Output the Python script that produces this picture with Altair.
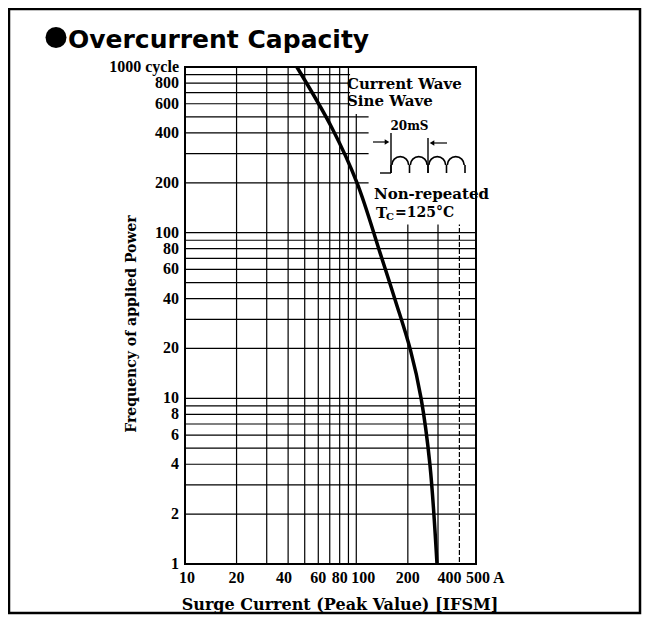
import math
import altair as alt
import pandas as pd

# ---------------- data ----------------
curve_current = [45, 72, 101, 138, 169, 207, 239, 269, 296]
curve_cycles = [1000, 430, 200, 75, 39, 19.6, 10, 4, 1]

x_grid_solid = [20, 30, 40, 50, 60, 70, 80, 90, 100, 200, 300]
x_grid_dashed = [400]
y_grid = [2, 3, 4, 5, 6, 7, 8, 9, 10, 20, 30, 40, 50, 60, 70, 80, 90,
          100, 200, 300, 400, 500, 600, 700, 800, 900]
x_tick_values = [10, 20, 40, 60, 80, 100, 200, 400, 500]
y_tick_values = [1, 2, 4, 6, 8, 10, 20, 40, 60, 80, 100, 200, 400, 600, 800, 1000]
x_unit = "A"
y_unit = "cycle"

title_text = "Overcurrent Capacity"
x_title = "Surge Current (Peak Value) [IFSM]"
y_title = "Frequency of applied Power"
wave_lines = ["Current Wave", "Sine Wave"]
period_label = "20mS"
repeat_label = "Non-repeated"
temp_symbol, temp_sub, temp_value = "T", "C", "=125°C"

# white area behind the annotation (data coordinates)
mask_x1 = [92, 118]
mask_x2 = [500, 500]
mask_y1 = [520, 112]
mask_y2 = [1000, 520]

# ---------------- layout ----------------
W, H = 291, 497
SERIF = "DejaVu Serif"
TICKFONT = "Liberation Serif"
xs = alt.Scale(type="log", domain=[10, 500], nice=False)
ys = alt.Scale(type="log", domain=[1, 1000], nice=False)
# small horizontal nudges of some x tick labels (pixels)
x_label_nudge = {10: 2, 40: -4, 100: 7, 400: -10}


def txt(text, x, y, size=15, align="left", font=SERIF, angle=None, baseline="middle"):
    kw = dict(align=align, baseline=baseline, font=font, fontWeight="bold",
              fontSize=size, color="black")
    if angle is not None:
        kw["angle"] = angle
    return alt.Chart(pd.DataFrame({"t": [text]})).mark_text(**kw).encode(
        text="t:N", x=alt.value(x), y=alt.value(y))


def vrule(x, y1, y2, w=1.4):
    return alt.Chart(pd.DataFrame({"a": [0]})).mark_rule(color="black", strokeWidth=w).encode(
        x=alt.value(x), y=alt.value(y1), y2=alt.value(y2))


def hrule(x1, x2, y, w=1.4):
    return alt.Chart(pd.DataFrame({"a": [0]})).mark_rule(color="black", strokeWidth=w).encode(
        x=alt.value(x1), x2=alt.value(x2), y=alt.value(y))


hgrid = alt.Chart(pd.DataFrame({"y": y_grid})).mark_rule(color="black", strokeWidth=1.2).encode(
    y=alt.Y("y:Q", scale=ys, axis=None))
vgrid = alt.Chart(pd.DataFrame({"x": x_grid_solid})).mark_rule(color="black", strokeWidth=1.2).encode(
    x=alt.X("x:Q", scale=xs, axis=None))
vgrid_d = alt.Chart(pd.DataFrame({"x": x_grid_dashed})).mark_rule(
    color="black", strokeWidth=1.2, strokeDash=[5, 2]).encode(
    x=alt.X("x:Q", scale=xs, axis=None))

masks = alt.Chart(pd.DataFrame({"x1": mask_x1, "x2": mask_x2, "y1": mask_y1, "y2": mask_y2})).mark_rect(
    color="white").encode(
    x=alt.X("x1:Q", scale=xs, axis=None), x2="x2:Q",
    y=alt.Y("y1:Q", scale=ys, axis=None), y2="y2:Q")

plot_border = alt.Chart(pd.DataFrame({"a": [0]})).mark_rect(
    filled=False, stroke="black", strokeWidth=2).encode(
    x=alt.value(0), x2=alt.value(W), y=alt.value(0), y2=alt.value(H))

curve = alt.Chart(pd.DataFrame({"x": curve_current, "y": curve_cycles})).mark_line(
    color="black", strokeWidth=3.5, interpolate="catmull-rom").encode(
    x=alt.X("x:Q", scale=xs, axis=None),
    y=alt.Y("y:Q", scale=ys, axis=None),
    order="x:Q")

# ---- tick labels, placed through the scales ----
label_style = dict(font=TICKFONT, fontWeight="bold", fontSize=16, color="black")
y_labels_df = pd.DataFrame({
    "v": y_tick_values,
    "t": [f"{v} {y_unit}" if v == 1000 else str(v) for v in y_tick_values]})
y_labels = alt.Chart(y_labels_df).mark_text(align="right", baseline="middle", **label_style).encode(
    y=alt.Y("v:Q", scale=ys, axis=None), x=alt.value(-6), text="t:N")

x_labels = []
plain = [v for v in x_tick_values if v != 500]
groups = {}
for v in plain:
    groups.setdefault(x_label_nudge.get(v, 0), []).append(v)
for dx, vals in groups.items():
    x_labels.append(alt.Chart(pd.DataFrame({"v": vals, "t": [str(v) for v in vals]})).mark_text(
        align="center", baseline="top", dx=dx, **label_style).encode(
        x=alt.X("v:Q", scale=xs, axis=None), y=alt.value(H + 6), text="t:N"))
x_labels.append(alt.Chart(pd.DataFrame({"v": [500], "t": [f"500 {x_unit}"]})).mark_text(
    align="left", baseline="top", dx=-10, **label_style).encode(
    x=alt.X("v:Q", scale=xs, axis=None), y=alt.value(H + 6), text="t:N"))

# title with bullet
bullet = alt.Chart(pd.DataFrame({"a": [0]})).mark_point(
    shape="circle", filled=True, size=441, color="black", opacity=1).encode(
    x=alt.value(-129), y=alt.value(-29.5))
title = txt(title_text, -117, -19, size=25, font="DejaVu Sans", baseline="alphabetic")

ytitle = txt(y_title, -53, 257, size=14, align="center", angle=270)
xtitle = txt(x_title, 155, 538, size=16, align="center")

ann = [
    txt(wave_lines[0], 162, 17),
    txt(wave_lines[1], 162, 34),
    txt(period_label, 224.5, 59, size=12, align="center"),
    txt(repeat_label, 189, 127),
    txt(temp_symbol, 191, 146),
    txt(temp_sub, 201, 150, size=10),
    txt(temp_value, 210, 146, size=14),
]

# waveform glyph (pixel sketch)
hump_cx = [215.25, 233.75, 252.25, 270.75]
glyph = []
for cx in hump_cx:
    glyph.append(alt.Chart(pd.DataFrame({"a": [0]})).mark_arc(
        radius=9.25, radius2=7.6, theta=1.5 * math.pi, theta2=2.5 * math.pi,
        color="black").encode(x=alt.value(cx), y=alt.value(98)))
for lx in [206, 224.5, 243, 261.5, 280]:
    glyph.append(vrule(lx, 98, 106, 1.6))
glyph += [
    hrule(195, 206, 106),
    vrule(206, 66, 106),
    vrule(243, 71, 106),
    hrule(188, 202, 75, 1.2),
    hrule(249, 262, 76, 1.2),
    alt.Chart(pd.DataFrame({"a": [0]})).mark_point(
        shape="triangle-right", filled=True, size=28, color="black", opacity=1).encode(
        x=alt.value(202), y=alt.value(75)),
    alt.Chart(pd.DataFrame({"a": [0]})).mark_point(
        shape="triangle-left", filled=True, size=28, color="black", opacity=1).encode(
        x=alt.value(247), y=alt.value(76)),
]

frame = alt.Chart(pd.DataFrame({"a": [0]})).mark_rect(
    filled=False, stroke="black", strokeWidth=2.5).encode(
    x=alt.value(-176), x2=alt.value(455), y=alt.value(-58), y2=alt.value(546))

chart = alt.layer(
    hgrid, vgrid, vgrid_d, masks, plot_border, curve, y_labels, *x_labels,
    bullet, title, ytitle, xtitle, *ann, *glyph, frame
).properties(
    width=W, height=H,
    padding={"left": 177, "top": 59, "right": 166, "bottom": 51},
    autosize=alt.AutoSizeParams(type="none"),
).configure_view(stroke=None)

chart.save("out.html", embed_options={"renderer": "svg", "actions": False})
